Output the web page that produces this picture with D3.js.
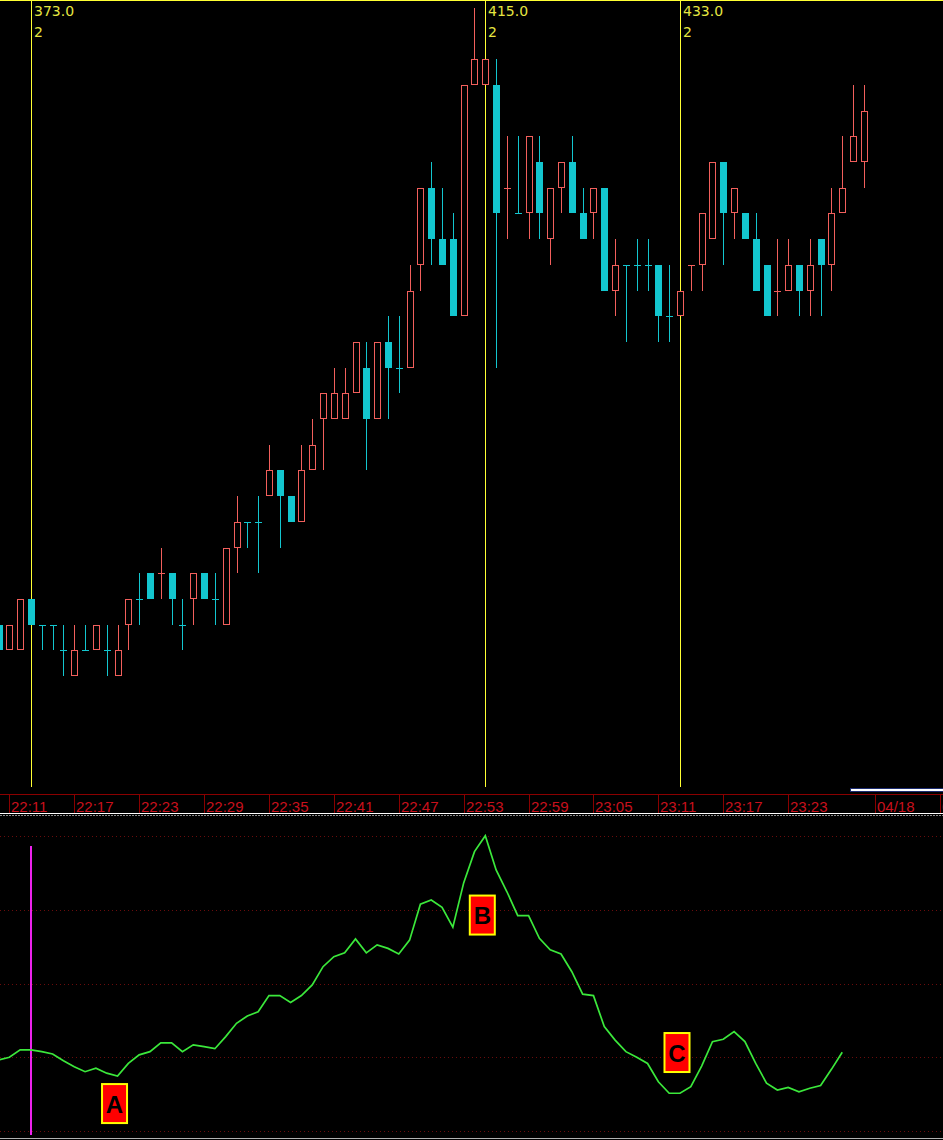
<!DOCTYPE html>
<html><head><meta charset="utf-8">
<script src="https://cdn.jsdelivr.net/npm/d3@7"></script>
<style>html,body{margin:0;padding:0;background:#000;overflow:hidden}svg{display:block}</style>
</head><body>
<svg id="c" width="943" height="1140"></svg>
<script>
// ---- data (price expressed in ticks above the lowest low) ----
const firstBar = 370;
const openP  = [2,1,1,3,2,2,1,0,1,1,1,0,2,3,4,4,4,2,3,4,3,2,5,6,6,7,8,7,6,8,10,10,10,11,12,10,13,12,12,16,19,17,17,14,23,23,23,19,18,18,20,17,19,20,18,18,19,15,16,16,16,16,14,14,16,16,17,20,18,18,17,16,15,15,16,15,17,16,18,20,20];
const highP  = [2,2,3,3,2,2,2,2,2,2,2,2,3,4,4,5,4,3,4,4,4,5,7,6,7,9,8,7,9,10,11,12,12,13,13,13,14,14,16,19,20,19,18,23,26,24,24,21,21,21,21,19,20,21,19,19,19,17,16,17,17,16,16,15,16,18,20,20,19,18,18,16,17,17,16,17,17,19,21,23,23];
const lowP   = [1,1,1,2,1,1,0,0,1,1,0,0,1,2,3,3,2,1,2,3,2,2,4,5,4,7,5,6,6,8,8,10,10,11,8,10,10,11,12,15,16,16,14,14,23,23,12,17,18,17,17,16,18,18,17,17,15,14,13,15,15,13,13,14,15,15,17,16,17,17,15,14,14,15,14,14,14,15,18,20,19];
const closeP = [1,2,3,2,2,2,1,1,1,2,1,1,3,3,3,4,3,2,4,3,3,5,6,6,6,8,7,6,8,9,11,11,11,13,10,13,12,12,15,19,17,16,14,23,24,24,18,19,18,21,18,19,20,18,17,19,15,16,16,16,16,14,14,15,16,18,20,18,19,17,15,14,15,16,15,16,16,18,19,21,22];

const markerBars   = [373, 415, 433];
const markerLabels = ["373.0", "415.0", "433.0"];
const markerCounts = ["2", "2", "2"];

const tickBars   = [371, 377, 383, 389, 395, 401, 407, 413, 419, 425, 431, 437, 443, 451, 457];
const tickLabels = ["22:11","22:17","22:23","22:29","22:35","22:41","22:47","22:53","22:59","23:05","23:11","23:17","23:23","04/18","00:05"];

const oscFirstBar = 370;
const oscValues = [24.1,25.0,27.5,27.5,26.9,26.1,23.8,21.8,20.1,21.3,19.6,18.6,22.9,25.8,26.9,29.9,29.9,26.9,29.2,28.6,27.9,32.0,36.5,39.0,40.4,45.9,45.9,43.6,45.9,49.5,55.7,59.1,60.4,65.1,60.4,63.1,61.9,60.0,64.7,76.9,78.3,75.8,69.1,84.1,94.7,100.1,88.5,81.1,73.0,73.0,65.3,61.4,60.0,54.0,46.4,45.9,35.4,30.8,26.9,25.0,22.9,16.7,12.8,12.8,15.0,22.0,30.3,31.1,33.7,30.3,22.9,16.2,13.9,14.8,13.3,14.5,15.4,20.9,26.7];
const oscGrid = [0, 25, 50, 75, 100];
const oscMarkBar = 373;

const noteTexts  = ["A", "B", "C"];
const noteBars   = [381, 415, 433];
const noteValues = [9.3, 73.2, 26.6];

// ---- drawing ----
const W = 943;
const RED = "#f25f5c", CYAN = "#13c6cf", YEL = "#ffff33", YTXT = "#e6e640";
const svg = d3.select("#c");
svg.append("rect").attr("width", W).attr("height", 1140).attr("fill", "#000");

const x  = d3.scaleLinear().domain([373, 433]).range([31, 680]);
const y  = d3.scaleLinear().domain([0, 26]).range([676, 7.8]);
const yo = d3.scaleLinear().domain([0, 100]).range([1131, 836]);

const bars = openP.map((o, i) => ({
  idx: firstBar + i, o, h: highP[i], l: lowP[i], c: closeP[i],
  pc: i > 0 ? closeP[i - 1] : null
}));
bars.forEach(b => {
  b.up = b.c > b.o || (b.c === b.o && b.pc !== null && b.c > b.pc);
  b.doji = b.c === b.o;
});

// top border
svg.append("line").attr("x1", 0).attr("x2", W).attr("y1", 0.5).attr("y2", 0.5)
  .attr("stroke", YEL).attr("stroke-width", 1);

// marker vertical lines
const mk = svg.append("g");
markerBars.forEach((m, i) => {
  const px = Math.round(x(m)) + 0.5;
  mk.append("line").attr("x1", px).attr("x2", px).attr("y1", 0).attr("y2", 787)
    .attr("stroke", YEL).attr("stroke-width", 1);
  mk.append("text").attr("x", px + 2.5).attr("y", 16).text(markerLabels[i])
    .attr("fill", YTXT).attr("font-family", "DejaVu Sans").attr("font-size", 14);
  mk.append("text").attr("x", px + 2.5).attr("y", 37).text(markerCounts[i])
    .attr("fill", YTXT).attr("font-family", "DejaVu Sans").attr("font-size", 14);
});

// candles
const cg = svg.append("g");
bars.forEach(b => {
  const cx = Math.round(x(b.idx));
  const col = b.up ? RED : CYAN;
  const top = Math.round(y(Math.max(b.o, b.c)));
  const bot = Math.round(y(Math.min(b.o, b.c)));
  const yh = Math.round(y(b.h)), yl = Math.round(y(b.l));
  if (b.doji) {
    cg.append("line").attr("x1", cx + 0.5).attr("x2", cx + 0.5).attr("y1", yh).attr("y2", yl)
      .attr("stroke", col);
    cg.append("line").attr("x1", cx - 3).attr("x2", cx + 4).attr("y1", top + 0.5).attr("y2", top + 0.5)
      .attr("stroke", col);
  } else if (b.up) {
    if (yh < top) cg.append("line").attr("x1", cx + 0.5).attr("x2", cx + 0.5).attr("y1", yh).attr("y2", top).attr("stroke", col);
    if (yl > bot) cg.append("line").attr("x1", cx + 0.5).attr("x2", cx + 0.5).attr("y1", bot).attr("y2", yl).attr("stroke", col);
    cg.append("rect").attr("x", cx - 2.5).attr("y", top + 0.5).attr("width", 6).attr("height", bot - top - 1)
      .attr("fill", "#000").attr("stroke", col).attr("stroke-width", 1);
  } else {
    cg.append("line").attr("x1", cx + 0.5).attr("x2", cx + 0.5).attr("y1", yh).attr("y2", yl).attr("stroke", col);
    cg.append("rect").attr("x", cx - 3).attr("y", top).attr("width", 7).attr("height", bot - top)
      .attr("fill", col);
  }
});

// scroll indicator
svg.append("rect").attr("x", 850.5).attr("y", 788.5).attr("width", 94).attr("height", 3)
  .attr("fill", "#ffffff").attr("stroke", "#1c2c70").attr("stroke-width", 1);

// time axis
const ax = svg.append("g");
ax.append("line").attr("x1", 0).attr("x2", W).attr("y1", 794.5).attr("y2", 794.5).attr("stroke", "#8a0000");
tickBars.forEach((t, i) => {
  const px = Math.round(x(t)) + 0.5;
  ax.append("line").attr("x1", px).attr("x2", px).attr("y1", 794).attr("y2", 813).attr("stroke", "#8a0000");
  ax.append("text").attr("x", px + 1.5).attr("y", 812).text(tickLabels[i])
    .attr("fill", "#c8101c").attr("font-family", "Liberation Sans, Arial").attr("font-size", 15);
});
ax.append("line").attr("x1", 0).attr("x2", W).attr("y1", 813.5).attr("y2", 813.5).attr("stroke", "#ffffff");
ax.append("line").attr("x1", 0).attr("x2", W).attr("y1", 815.5).attr("y2", 815.5).attr("stroke", "#8c8c8c").attr("stroke-dasharray", "2,1");

// oscillator panel
const og = svg.append("g");
oscGrid.forEach(v => {
  og.append("line").attr("x1", 0).attr("x2", W).attr("y1", Math.round(yo(v)) + 0.5).attr("y2", Math.round(yo(v)) + 0.5)
    .attr("stroke", "#6a0c0c").attr("stroke-dasharray", "1,3");
});
const mx = Math.round(x(oscMarkBar));
og.append("line").attr("x1", mx).attr("x2", mx).attr("y1", 846).attr("y2", 1135)
  .attr("stroke", "#ee22ee").attr("stroke-width", 2);

const oscData = oscValues.map((v, i) => ({ idx: oscFirstBar + i, v }));
og.append("path").datum(oscData)
  .attr("d", d3.line().x(d => x(d.idx)).y(d => yo(d.v)))
  .attr("fill", "none").attr("stroke", "#3be83b").attr("stroke-width", 1.7);

noteTexts.forEach((t, i) => {
  const cx = x(noteBars[i]) - 3;
  const cy = yo(noteValues[i]);
  og.append("rect").attr("x", cx - 12.5).attr("y", cy - 19.5).attr("width", 25).attr("height", 39)
    .attr("fill", "#ff0000").attr("stroke", "#ffff00").attr("stroke-width", 2);
  og.append("text").attr("x", cx).attr("y", cy + 9).attr("text-anchor", "middle").text(t)
    .attr("fill", "#000").attr("font-family", "Liberation Sans, Arial").attr("font-weight", "bold").attr("font-size", 24);
});

svg.append("line").attr("x1", 0).attr("x2", W).attr("y1", 1138.5).attr("y2", 1138.5).attr("stroke", "#b0b0b0");
</script>
</body></html>
